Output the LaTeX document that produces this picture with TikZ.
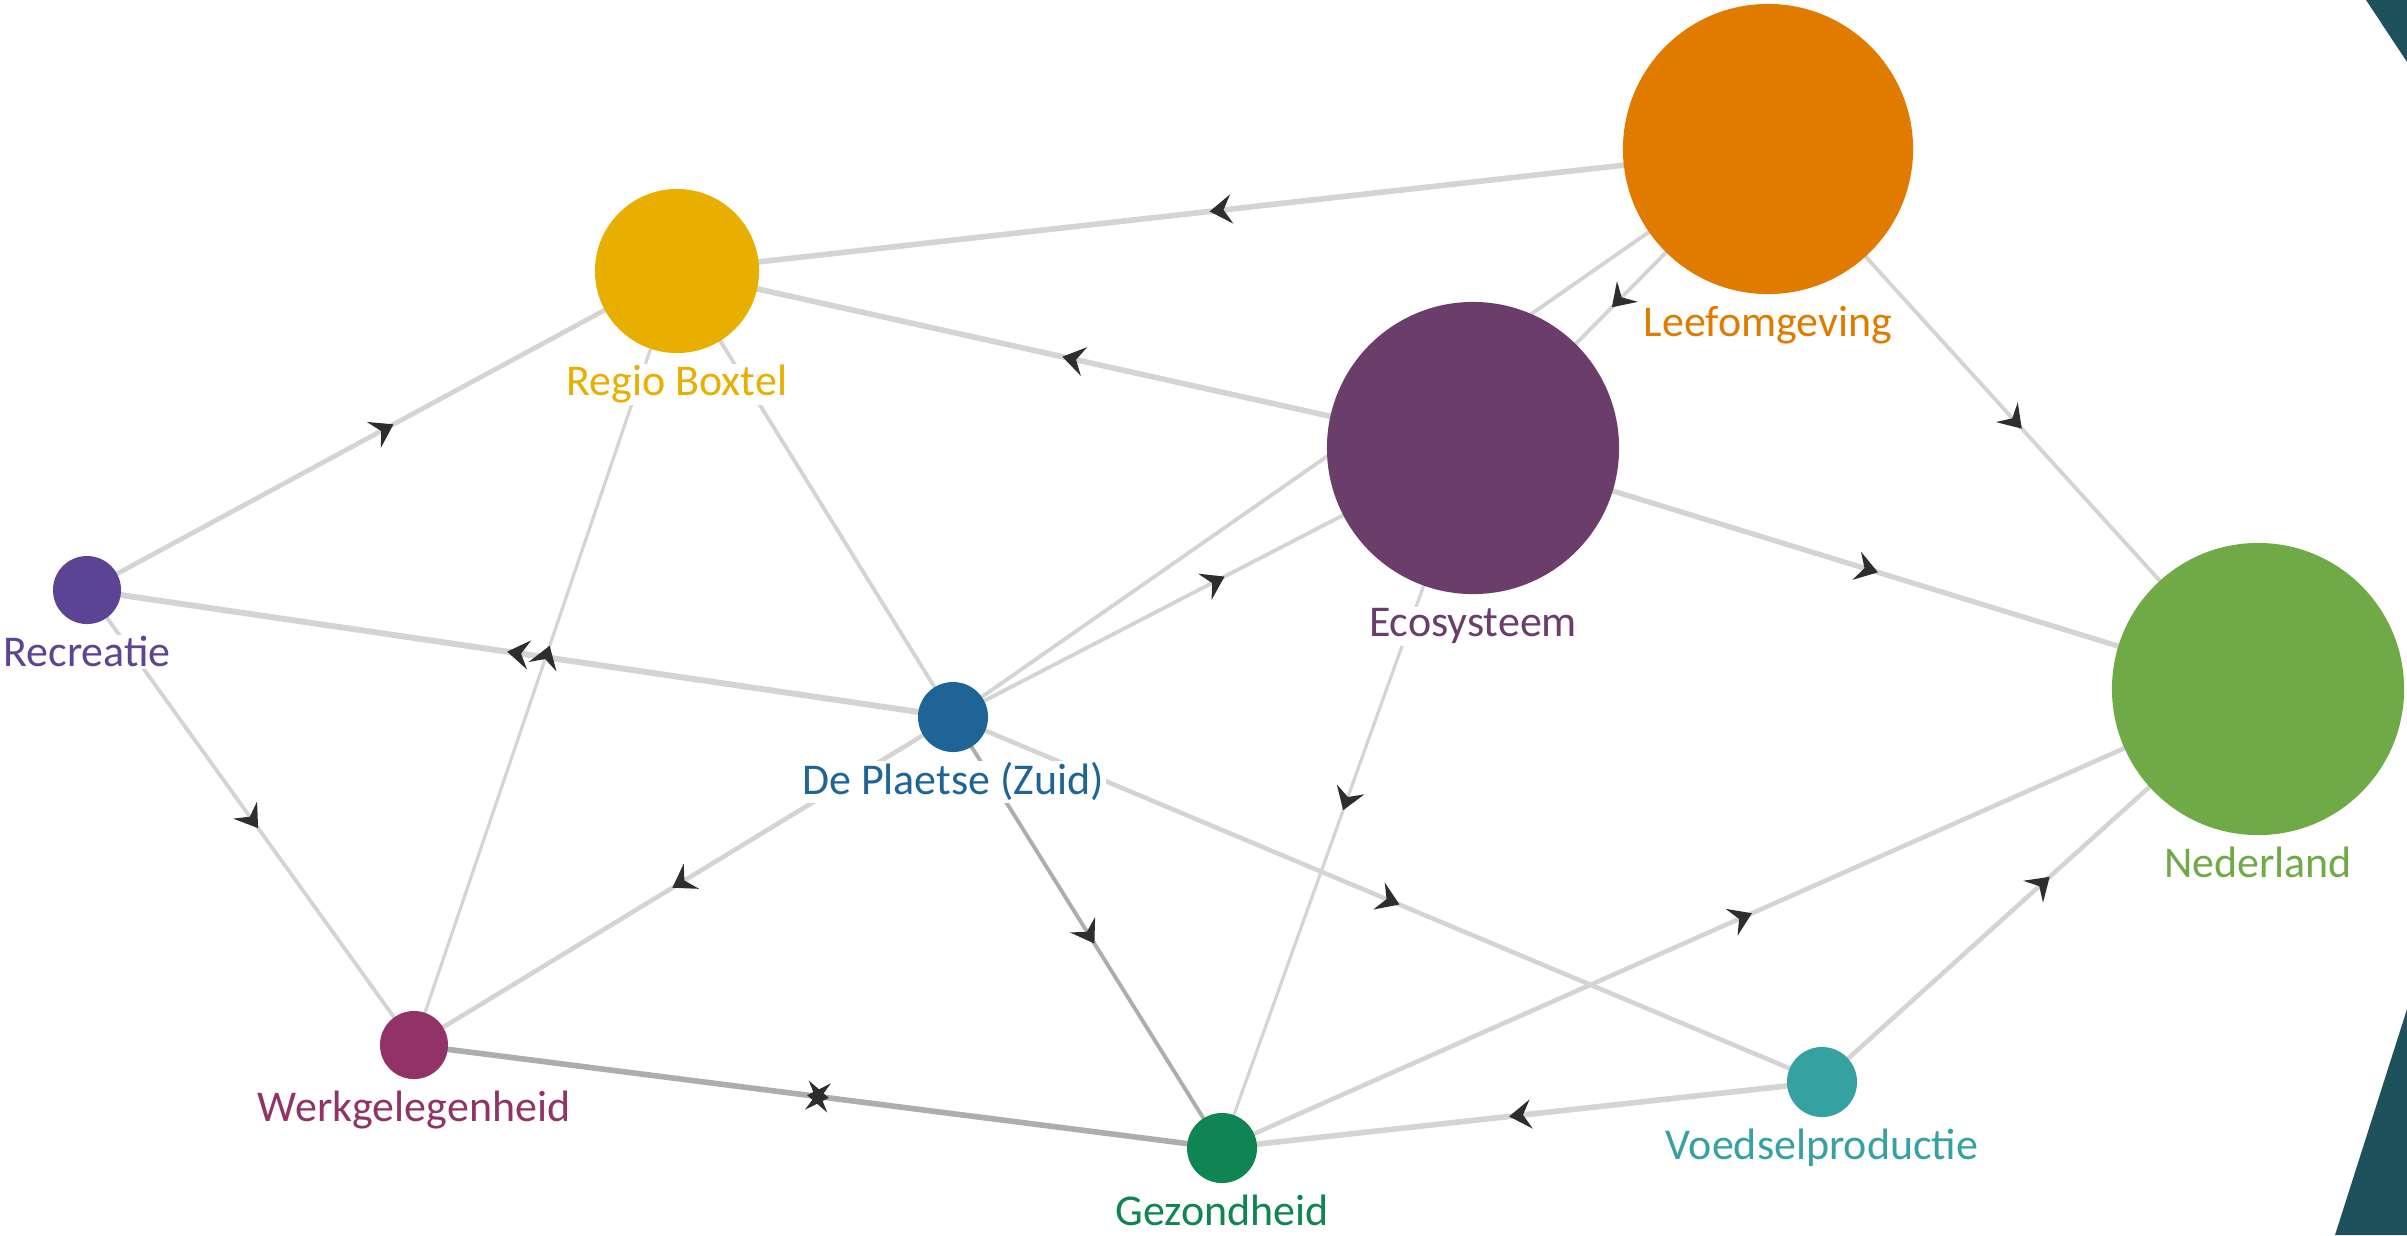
\documentclass[tikz,border=0pt]{standalone}
\usepackage{fontspec}
\setmainfont{Carlito}
\usepackage{xcolor}
\usepackage{tikz}
\usetikzlibrary{positioning}
\usetikzlibrary{arrows.meta}
\usetikzlibrary{decorations.markings}
\pgfdeclarelayer{background}
\pgfsetlayers{background,main}
\definecolor{cleef}{HTML}{E07B00}
\definecolor{cregio}{HTML}{E8AF00}
\definecolor{ceco}{HTML}{6A3D6B}
\definecolor{cned}{HTML}{6FAA46}
\definecolor{crec}{HTML}{5D4393}
\definecolor{cplaetse}{HTML}{1F6496}
\definecolor{cwerk}{HTML}{923368}
\definecolor{cgez}{HTML}{0F8553}
\definecolor{cvoed}{HTML}{35A1A1}
\definecolor{cteal}{HTML}{1D525C}
\definecolor{edgegray}{HTML}{D4D4D4}
\definecolor{edgedark}{HTML}{ADADAD}
\definecolor{tipgray}{HTML}{2E2E2E}
\tikzstyle{vertex}=[circle,draw=none,inner sep=0pt]
\tikzstyle{nodetext} = [font=\fontsize{12.5}{15}\selectfont,fill=white,inner sep=0.5pt]
\tikzstyle{plainedge} = [draw,edgegray]
\tikzstyle{arrowedge} = [plainedge,postaction={decorate},
  decoration={markings,mark=at position 0.5 with {\arrow[color=tipgray,xshift=1.3mm]{Stealth[length=2.2mm,width=2.9mm,inset=0.8mm]}}}]
\tikzstyle{bothedge} = [plainedge,postaction={decorate},
  decoration={markings,mark=at position 0.5 with {\arrow[color=tipgray,xshift=1.1mm]{Stealth[length=2.2mm,width=2.9mm,inset=0.8mm]}
    \arrowreversed[color=tipgray,xshift=-1.1mm]{Stealth[length=2.2mm,width=2.9mm,inset=0.8mm]}}}]

\begin{document}
\begin{tikzpicture}[x=0.01cm,y=-0.01cm]
    \useasboundingbox (0,0) rectangle (2407,1235);
    % corner shapes
    \fill[cteal] (2366,0) -- (2407,0) -- (2407,62) -- cycle;
    \fill[cteal] (2407,1009) -- (2407,1235) -- (2335,1235) -- cycle;

    % First we draw the vertices
    \foreach \pos/\name/\size/\col in {{(1768,149)/leef/2.9cm/cleef},
    {(677,271)/regio/1.64cm/cregio}, {(1473,448)/eco/2.92cm/ceco},
    {(2258,689)/ned/2.92cm/cned}, {(87,590)/rec/0.68cm/crec},
    {(953,717)/plaetse/0.7cm/cplaetse}, {(414,1045)/werk/0.68cm/cwerk},
    {(1222,1148)/gez/0.7cm/cgez}, {(1822,1082)/voed/0.7cm/cvoed}}
        \node[vertex,fill=\col,minimum size=\size] (\name) at \pos {};

    \foreach \name/\lbl/\col in {leef/Leefomgeving/cleef, regio/Regio Boxtel/cregio,
    eco/Ecosysteem/ceco, ned/Nederland/cned, rec/Recreatie/crec,
    plaetse/De Plaetse (Zuid)/cplaetse, werk/Werkgelegenheid/cwerk,
    gez/Gezondheid/cgez, voed/Voedselproductie/cvoed}
        \node[nodetext,text=\col,below=4.2mm of \name.south,anchor=base] (\name-lbl) {\lbl};

    % Connect vertices with edges
    \begin{pgfonlayer}{background}
    \foreach \source/\dest/\w/\sty/\col in {leef/regio/1.6/arrowedge/edgegray,
    eco/regio/1.6/arrowedge/edgegray, rec/regio/1.35/arrowedge/edgegray,
    plaetse/rec/1.7/arrowedge/edgegray, rec/werk/1.1/arrowedge/edgegray,
    werk/regio/0.9/arrowedge/edgegray, regio/plaetse/1.1/plainedge/edgegray,
    plaetse/werk/1.3/arrowedge/edgegray, plaetse/gez/1.1/arrowedge/edgedark,
    werk/gez/1.6/bothedge/edgedark, plaetse/voed/1.3/arrowedge/edgegray,
    eco/gez/0.9/arrowedge/edgegray, eco/ned/1.5/arrowedge/edgegray,
    leef/ned/1.1/arrowedge/edgegray, gez/ned/1.3/arrowedge/edgegray,
    voed/ned/1.3/arrowedge/edgegray, voed/gez/1.6/arrowedge/edgegray,
    leef/eco/1.1/arrowedge/edgegray, plaetse/leef/1.1/arrowedge/edgegray,
    plaetse/eco/1.1/arrowedge/edgegray}
        \path[\sty,draw=\col,line width=\w pt] (\source.center) -- (\dest.center);
    \end{pgfonlayer}
\end{tikzpicture}
\end{document}
